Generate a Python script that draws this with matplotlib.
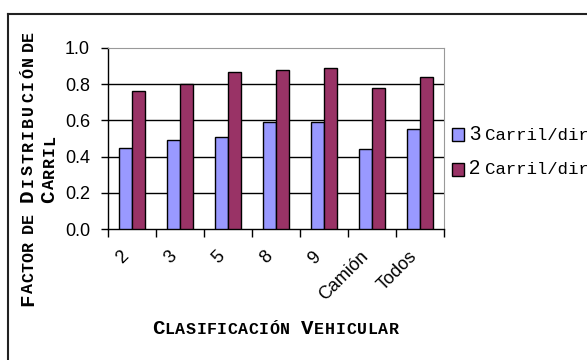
import numpy as np
import matplotlib.pyplot as plt
from matplotlib.font_manager import FontProperties
from matplotlib.lines import Line2D
from matplotlib.patches import Rectangle
from matplotlib.transforms import IdentityTransform, ScaledTranslation

# data
categorias = ['2', '3', '5', '8', '9', 'Camión', 'Todos']
tres_carriles = [0.45, 0.49, 0.51, 0.59, 0.59, 0.44, 0.55]
dos_carriles = [0.76, 0.80, 0.87, 0.88, 0.89, 0.78, 0.84]
series_labels = [('3', 'Carril/dir'), ('2', 'Carril/dir')]
yticks = [0.0, 0.2, 0.4, 0.6, 0.8, 1.0]

AZUL = '#9999FF'
VINO = '#993366'
W, H = 587, 360
SC_FONT = 'Liberation Mono'
BIG, SMALL = 15, 12

fig = plt.figure(figsize=(W / 100, H / 100), dpi=100)
renderer = fig.canvas.get_renderer()
px = IdentityTransform()

# outer frame (only top and left edges are visible in the picture)
fig.add_artist(Line2D([8 / W, 8 / W], [0, 1 - 14 / H], color='#222222', lw=1.5))
fig.add_artist(Line2D([8 / W, 1], [1 - 14 / H, 1 - 14 / H], color='#222222', lw=1.5))

ax = fig.add_axes([108 / W, 1 - 229 / H, 336 / W, 181 / H])
x = np.arange(len(categorias))
bw = 0.28
ax.bar(x - bw / 2, tres_carriles, bw, color=AZUL, edgecolor='black', lw=1, zorder=3)
ax.bar(x + bw / 2, dos_carriles, bw, color=VINO, edgecolor='black', lw=1, zorder=3)

for v in yticks[1:-1]:
    ax.axhline(v, color='black', lw=1, zorder=1)

ax.set_xlim(-0.5, len(categorias) - 0.5)
ax.set_ylim(0, 1)
ax.set_yticks(yticks)
ax.set_yticklabels([f'{v:.1f}' for v in yticks])
ax.set_xticks(np.arange(len(categorias) + 1) - 0.5)
ax.set_xticklabels([])
ax.set_xticks(x, minor=True)
ax.set_xticklabels(categorias, minor=True, rotation=45, ha='right',
                   va='center', rotation_mode='anchor')
ax.tick_params(axis='y', length=5, width=1, pad=8, labelsize=13, color='black')
ax.tick_params(axis='x', which='major', length=6, width=1, color='black')
ax.tick_params(axis='x', which='minor', length=0, pad=16, labelsize=13)
shift = ScaledTranslation(-6 / 100, -3 / 100, fig.dpi_scale_trans)
for lab in ax.get_xticklabels(minor=True):
    lab.set_transform(lab.get_transform() + shift)
for lab in ax.get_yticklabels() + ax.get_xticklabels(minor=True):
    lab.set_family('Liberation Sans')
for s in ['top', 'right']:
    ax.spines[s].set_color('#999999')
for s in ['left', 'bottom']:
    ax.spines[s].set_color('black')
    ax.spines[s].set_linewidth(1)


def smallcaps_word(word, start, end, base, vertical=False):
    # fake small caps: capitals big, lower case letters as smaller capitals,
    # spread over the span start..end (pixels, image coords)
    pieces = [(ch.upper(), BIG if ch.isupper() else SMALL) for ch in word]
    widths = []
    for ch, sz in pieces:
        fp = FontProperties(family=SC_FONT, weight='bold', size=sz)
        widths.append(renderer.get_text_width_height_descent(ch, fp, ismath=False)[0])
    span = abs(end - start)
    gap = max((span - sum(widths)) / max(len(pieces) - 1, 1), 0.5)
    total = sum(widths) + gap * (len(pieces) - 1)
    mid = (start + end) / 2
    if vertical:
        pos = mid + total / 2
    else:
        pos = mid - total / 2
    for (ch, sz), w in zip(pieces, widths):
        if vertical:
            fig.text(base, H - pos, ch, transform=px, rotation=90, rotation_mode='anchor',
                     ha='left', va='baseline', family=SC_FONT, weight='bold', size=sz)
            pos -= w + gap
        else:
            fig.text(pos, H - base, ch, transform=px, ha='left', va='baseline',
                     family=SC_FONT, weight='bold', size=sz)
            pos += w + gap


# y axis title, two lines, read bottom to top
smallcaps_word('Factor', 302, 245, 33, vertical=True)
smallcaps_word('de', 232, 214, 33, vertical=True)
smallcaps_word('Distribución', 202, 56, 33, vertical=True)
smallcaps_word('de', 50, 32, 33, vertical=True)
smallcaps_word('Carril', 203, 135, 54, vertical=True)

# x axis title
smallcaps_word('Clasificación', 154, 288, 334)
smallcaps_word('Vehicular', 301, 399, 334)

# legend
for i, (col, (num, txt)) in enumerate(zip([AZUL, VINO], series_labels)):
    yc = 135 + i * 34
    fig.add_artist(Rectangle((452 / W, 1 - (yc + 6.5) / H), 12 / W, 13 / H,
                             facecolor=col, edgecolor='black', lw=1))
    fig.text(469 / W, 1 - yc / H, num, family='Liberation Sans', size=14.5, va='center')
    fig.text(485 / W, 1 - yc / H, txt, family='Liberation Mono', size=12.5, va='center')

fig.savefig('out.png', dpi=100)
